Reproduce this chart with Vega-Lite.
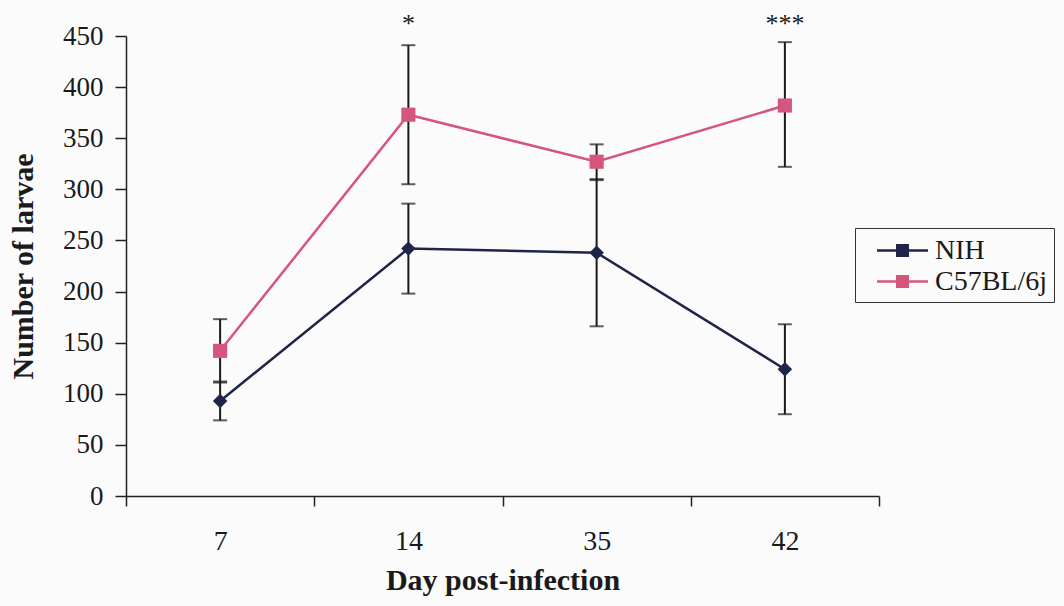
{
  "$schema": "https://vega.github.io/schema/vega-lite/v6.json",
  "width": 753,
  "height": 460,
  "autosize": {"type": "none"},
  "padding": {"left": 126, "top": 36, "right": 185, "bottom": 110},
  "background": "#fbfbfc",
  "config": {
    "font": "Liberation Serif",
    "view": {"stroke": null},
    "axis": {
      "labelFont": "Liberation Serif",
      "titleFont": "Liberation Serif",
      "labelColor": "#1a1a1a",
      "titleColor": "#1a1a1a",
      "domainColor": "#222222",
      "tickColor": "#222222",
      "domainWidth": 1.5,
      "tickWidth": 1.5,
      "grid": false
    }
  },
  "data": {
    "values": [
      {"day": "7", "strain": "NIH", "mean": 93, "lo": 74, "hi": 112},
      {"day": "14", "strain": "NIH", "mean": 242, "lo": 198, "hi": 286},
      {"day": "35", "strain": "NIH", "mean": 238, "lo": 166, "hi": 310},
      {"day": "42", "strain": "NIH", "mean": 124, "lo": 80, "hi": 168},
      {"day": "7", "strain": "C57BL/6j", "mean": 142, "lo": 111, "hi": 173},
      {"day": "14", "strain": "C57BL/6j", "mean": 373, "lo": 305, "hi": 441},
      {"day": "35", "strain": "C57BL/6j", "mean": 327, "lo": 309, "hi": 344},
      {"day": "42", "strain": "C57BL/6j", "mean": 382, "lo": 322, "hi": 444}
    ]
  },
  "encoding": {
    "x": {
      "field": "day",
      "type": "ordinal",
      "scale": {"type": "band", "domain": ["7", "14", "35", "42"], "paddingInner": 0, "paddingOuter": 0},
      "axis": {
        "title": "Day post-infection",
        "titleFontWeight": "bold",
        "titleFontSize": 30,
        "labelFontSize": 28,
        "labelAngle": 0,
        "tickBand": "extent",
        "tickSize": 10,
        "labelPadding": 21,
        "titlePadding": 10
      }
    }
  },
  "layer": [
    {
      "mark": {"type": "line", "strokeWidth": 2.5},
      "encoding": {
        "y": {
          "field": "mean",
          "type": "quantitative",
          "scale": {"domain": [0, 450], "nice": false},
          "axis": {
            "title": "Number of larvae",
            "titleFontWeight": "bold",
            "titleFontSize": 30,
            "labelFontSize": 27,
            "values": [0, 50, 100, 150, 200, 250, 300, 350, 400, 450],
            "tickSize": 11,
            "labelPadding": 12,
            "titlePadding": 24
          }
        },
        "color": {
          "field": "strain",
          "type": "nominal",
          "scale": {"domain": ["NIH", "C57BL/6j"], "range": ["#1f2548", "#d6557d"]}
        }
      }
    },
    {
      "mark": {"type": "rule", "strokeWidth": 2, "color": "#1a1a1a"},
      "encoding": {
        "y": {"field": "lo", "type": "quantitative"},
        "y2": {"field": "hi"}
      }
    },
    {
      "mark": {"type": "tick", "thickness": 2, "size": 14, "color": "#1a1a1a"},
      "encoding": {"y": {"field": "lo", "type": "quantitative"}}
    },
    {
      "mark": {"type": "tick", "thickness": 2, "size": 14, "color": "#1a1a1a"},
      "encoding": {"y": {"field": "hi", "type": "quantitative"}}
    },
    {
      "transform": [{"filter": "datum.strain === 'C57BL/6j'"}],
      "mark": {"type": "point", "shape": "square", "filled": true, "opacity": 1, "size": 200},
      "encoding": {
        "y": {"field": "mean", "type": "quantitative"},
        "color": {
          "field": "strain",
          "type": "nominal",
          "scale": {"domain": ["NIH", "C57BL/6j"], "range": ["#1f2548", "#d6557d"]}
        }
      }
    },
    {
      "transform": [{"filter": "datum.strain === 'NIH'"}],
      "mark": {"type": "point", "shape": "diamond", "filled": true, "opacity": 1, "size": 210},
      "encoding": {
        "y": {"field": "mean", "type": "quantitative"},
        "color": {
          "field": "strain",
          "type": "nominal",
          "scale": {"domain": ["NIH", "C57BL/6j"], "range": ["#1f2548", "#d6557d"]},
          "legend": {
            "title": null,
            "orient": "none",
            "legendX": 729,
            "legendY": 192,
            "strokeColor": "#333333",
            "padding": 6,
            "symbolType": "M-1.7,0H1.7M-0.35,-0.35H0.35V0.35H-0.35Z",
            "symbolSize": 900,
            "symbolStrokeWidth": 2.5,
            "symbolOpacity": 1,
            "symbolOffset": 25,
            "labelOffset": 16,
            "labelFont": "Liberation Serif",
            "labelFontSize": 28,
            "labelColor": "#1a1a1a",
            "rowPadding": -1
          }
        }
      }
    },
    {
      "data": {"values": [{"day": "14", "label": "*"}, {"day": "42", "label": "***"}]},
      "mark": {"type": "text", "fontSize": 26, "font": "Liberation Serif", "color": "#1a1a1a", "baseline": "middle"},
      "encoding": {
        "y": {"datum": 462, "type": "quantitative"},
        "text": {"field": "label"}
      }
    }
  ]
}
